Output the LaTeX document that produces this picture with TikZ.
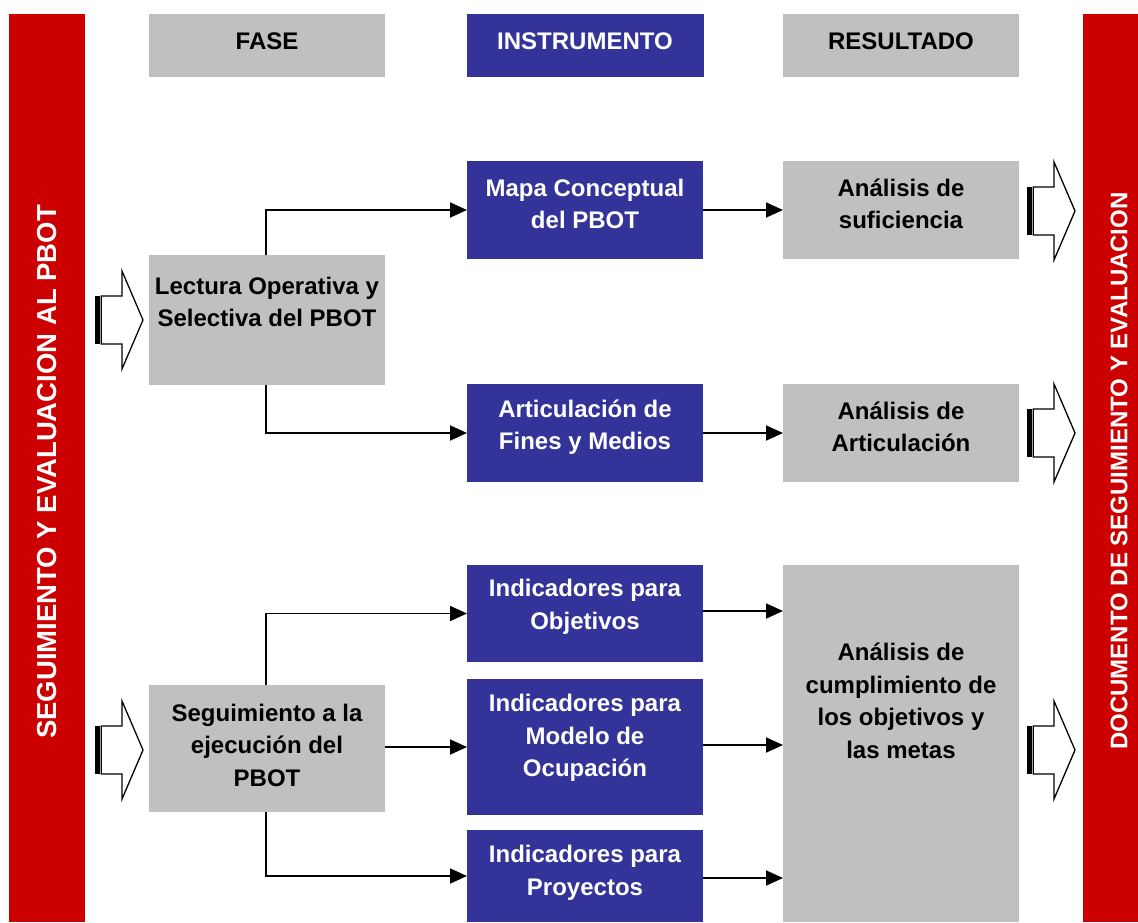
\documentclass[tikz,border=0pt]{standalone}
\usepackage{fontspec}
\setmainfont{Liberation Sans}
\usetikzlibrary{arrows.meta}
\definecolor{bred}{RGB}{204,0,0}
\definecolor{bgray}{RGB}{192,192,192}
\definecolor{bblue}{RGB}{51,51,153}
\tikzset{
  box/.style={inner sep=0pt, outer sep=0pt, draw=none, anchor=north west},
  graybox/.style={box, fill=bgray},
  bluebox/.style={box, fill=bblue},
  redbar/.style={box, fill=bred},
  txt/.style={font=\bfseries\fontsize{24}{32.5}\selectfont, align=center, inner sep=0pt},
  wtxt/.style={txt, text=white},
  conn/.style={line width=1.8pt, -{Triangle[length=17pt,width=15pt]}},
  vtxt/.style={font=\bfseries\fontsize{27.5}{30}\selectfont, text=white, rotate=90, inner sep=0pt},
  vtxtr/.style={vtxt, font=\bfseries\fontsize{24}{28}\selectfont}
}
\newcommand{\stripedarrow}[3]{% name, x0, yc
  \fill (#2,#3-24) rectangle (#2+4.5,#3+24);
  \draw[line width=1.3pt, fill=white, line join=miter]
    (#2+6.3,#3-24) -- (#2+27,#3-24) -- (#2+27,#3-49) -- (#2+48,#3)
    -- (#2+27,#3+49) -- (#2+27,#3+24) -- (#2+6.3,#3+24) -- cycle;
  \coordinate (#1) at (#2+48,#3);
}
\begin{document}
\begin{tikzpicture}[x=1pt,y=-1pt]
\useasboundingbox (0,0) rectangle (1138,922);
% red side bars
\node[redbar, minimum width=76pt, minimum height=908pt] (lbar) at (9,14) {};
\node[redbar, minimum width=60pt, minimum height=908pt] (rbar) at (1083,14) {};
\node[vtxt] (ltext) at (47,472) {SEGUIMIENTO Y EVALUACION AL PBOT};
\node[vtxtr] (rtext) at (1119,471) {DOCUMENTO DE SEGUIMIENTO Y EVALUACION};
% headers
\node[graybox, minimum width=236pt, minimum height=63pt] (hfase) at (149,14) {};
\node[bluebox, minimum width=237pt, minimum height=63pt] (hinst) at (467,14) {};
\node[graybox, minimum width=236pt, minimum height=63pt] (hres) at (783,14) {};
\node[txt] (hfase-t) at (267,41) {FASE};
\node[wtxt] (hinst-t) at (585,41) {INSTRUMENTO};
\node[txt] (hres-t) at (901,41) {RESULTADO};
% fase boxes
\node[graybox, minimum width=236pt, minimum height=130pt] (lec) at (149,255) {};
\node[txt] (lec-t) at (267,302) {Lectura Operativa y\\Selectiva del PBOT};
\node[graybox, minimum width=236pt, minimum height=127pt] (seg) at (149,685) {};
\node[txt] (seg-t) at (267,745) {Seguimiento a la\\ejecución del\\PBOT};
% instrument boxes
\node[bluebox, minimum width=236pt, minimum height=98pt] (mapa) at (467,161) {};
\node[wtxt] (mapa-t) at (585,204) {Mapa Conceptual\\del PBOT};
\node[bluebox, minimum width=236pt, minimum height=98pt] (art) at (467,384) {};
\node[wtxt] (art-t) at (585,427) {Articulación de\\Fines y Medios};
\node[bluebox, minimum width=236pt, minimum height=97pt] (iobj) at (467,565) {};
\node[wtxt] (iobj-t) at (585,607) {Indicadores para\\Objetivos};
\node[bluebox, minimum width=236pt, minimum height=136pt] (imod) at (467,679) {};
\node[wtxt] (imod-t) at (585,738) {Indicadores para\\Modelo de\\Ocupación};
\node[bluebox, minimum width=236pt, minimum height=92pt] (ipro) at (467,830) {};
\node[wtxt] (ipro-t) at (585,873) {Indicadores para\\Proyectos};
% result boxes
\node[graybox, minimum width=236pt, minimum height=98pt] (suf) at (783,161) {};
\node[txt] (suf-t) at (901,204) {Análisis de\\suficiencia};
\node[graybox, minimum width=236pt, minimum height=98pt] (anart) at (783,384) {};
\node[txt] (anart-t) at (901,427) {Análisis de\\Articulación};
\node[graybox, minimum width=236pt, minimum height=357pt] (cum) at (783,565) {};
\node[txt] (cum-t) at (901,701) {Análisis de\\cumplimiento de\\los objetivos y\\las metas};
% connectors fase -> instrumento
\draw[conn] (lec.north -| 266,0) |- (mapa.west);
\draw[conn] (lec.south -| 266,0) |- (art.west);
\draw[conn] (seg.north -| 266,0) |- (iobj.west);
\draw[conn] (seg.east |- imod.west) -- (imod.west);
\draw[conn] (seg.south -| 266,0) |- (ipro.west);
% connectors instrumento -> resultado
\draw[conn] (mapa.east) -- (suf.west);
\draw[conn] (art.east) -- (anart.west);
\draw[conn] (iobj.east |- 0,611) -- (cum.west |- 0,611);
\draw[conn] (imod.east |- 0,745) -- (cum.west |- 0,745);
\draw[conn] (ipro.east |- 0,878) -- (cum.west |- 0,878);
% striped block arrows
\stripedarrow{la1}{95}{320}
\stripedarrow{la2}{95}{750}
\stripedarrow{ra1}{1027}{211}
\stripedarrow{ra2}{1027}{433}
\stripedarrow{ra3}{1027}{750}
\end{tikzpicture}
\end{document}
